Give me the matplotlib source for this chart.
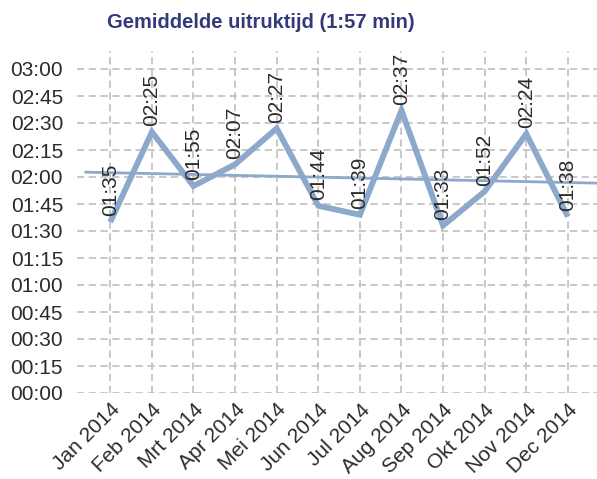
import matplotlib
matplotlib.use("Agg")
import matplotlib.pyplot as plt
from matplotlib.ticker import FuncFormatter
import numpy as np

months = ["Jan 2014", "Feb 2014", "Mrt 2014", "Apr 2014", "Mei 2014", "Jun 2014",
          "Jul 2014", "Aug 2014", "Sep 2014", "Okt 2014", "Nov 2014", "Dec 2014"]
times = ["01:35", "02:25", "01:55", "02:07", "02:27", "01:44",
         "01:39", "02:37", "01:33", "01:52", "02:24", "01:38"]
title = "Gemiddelde uitruktijd (1:57 min)"

values = np.array([int(t.split(":")[0]) * 60 + int(t.split(":")[1]) for t in times])
x = np.arange(len(months))

W, H = 597, 479
fig = plt.figure(figsize=(W / 100, H / 100), dpi=100)
left, right, top, bottom = 77, 597, 51, 393
ax = fig.add_axes([left / W, 1 - bottom / H, (right - left) / W, (bottom - top) / H])

plt.rcParams['font.family'] = ['Liberation Sans', 'DejaVu Sans']
font = 'Liberation Sans'
fs = 15
col = '#8CA8CB'
tcol = '#2b2b2b'

ax.set_xlim(-0.8, 11.7)
ax.set_ylim(0, 190)

# grid
ax.set_yticks(np.arange(0, 181, 15))
ax.set_xticks(x)
ax.grid(True, color='#c4c4c4', linestyle=(0, (4, 2.5)), linewidth=1.3)
ax.set_axisbelow(True)
for s in ax.spines.values():
    s.set_visible(False)
ax.tick_params(length=0, pad=10, labelsize=fs, labelcolor=tcol)
ax.tick_params(axis='x', pad=5)

ax.yaxis.set_major_formatter(FuncFormatter(lambda v, p: f"{int(v)//60:02d}:{int(v)%60:02d}"))
for lab in ax.get_yticklabels():
    lab.set_fontfamily(font)
ax.set_xticklabels(months, rotation=45, ha='right', rotation_mode='anchor',
                   fontsize=fs, fontfamily=font, color=tcol)

# trend line
coef = np.polyfit(x, values, 1)
tx = np.array([-0.62, 11.8])
ax.plot(tx, np.polyval(coef, tx), color=col, linewidth=2.0, solid_capstyle='butt', clip_on=True)

# main line
ax.plot(x, values, color=col, linewidth=4.2, solid_joinstyle='miter', solid_capstyle='butt')

for xi, v, t in zip(x, values, times):
    ax.annotate(t, (xi, v), xytext=(0, 4), textcoords='offset points',
                rotation=90, ha='center', va='bottom', fontsize=fs,
                fontfamily=font, color=tcol)

fig.text(261 / W, 1 - 22 / H, title, ha='center', va='center', fontsize=14.5,
         fontweight='bold', color='#333a7a', fontfamily=font)

fig.savefig("out.png", dpi=100)
